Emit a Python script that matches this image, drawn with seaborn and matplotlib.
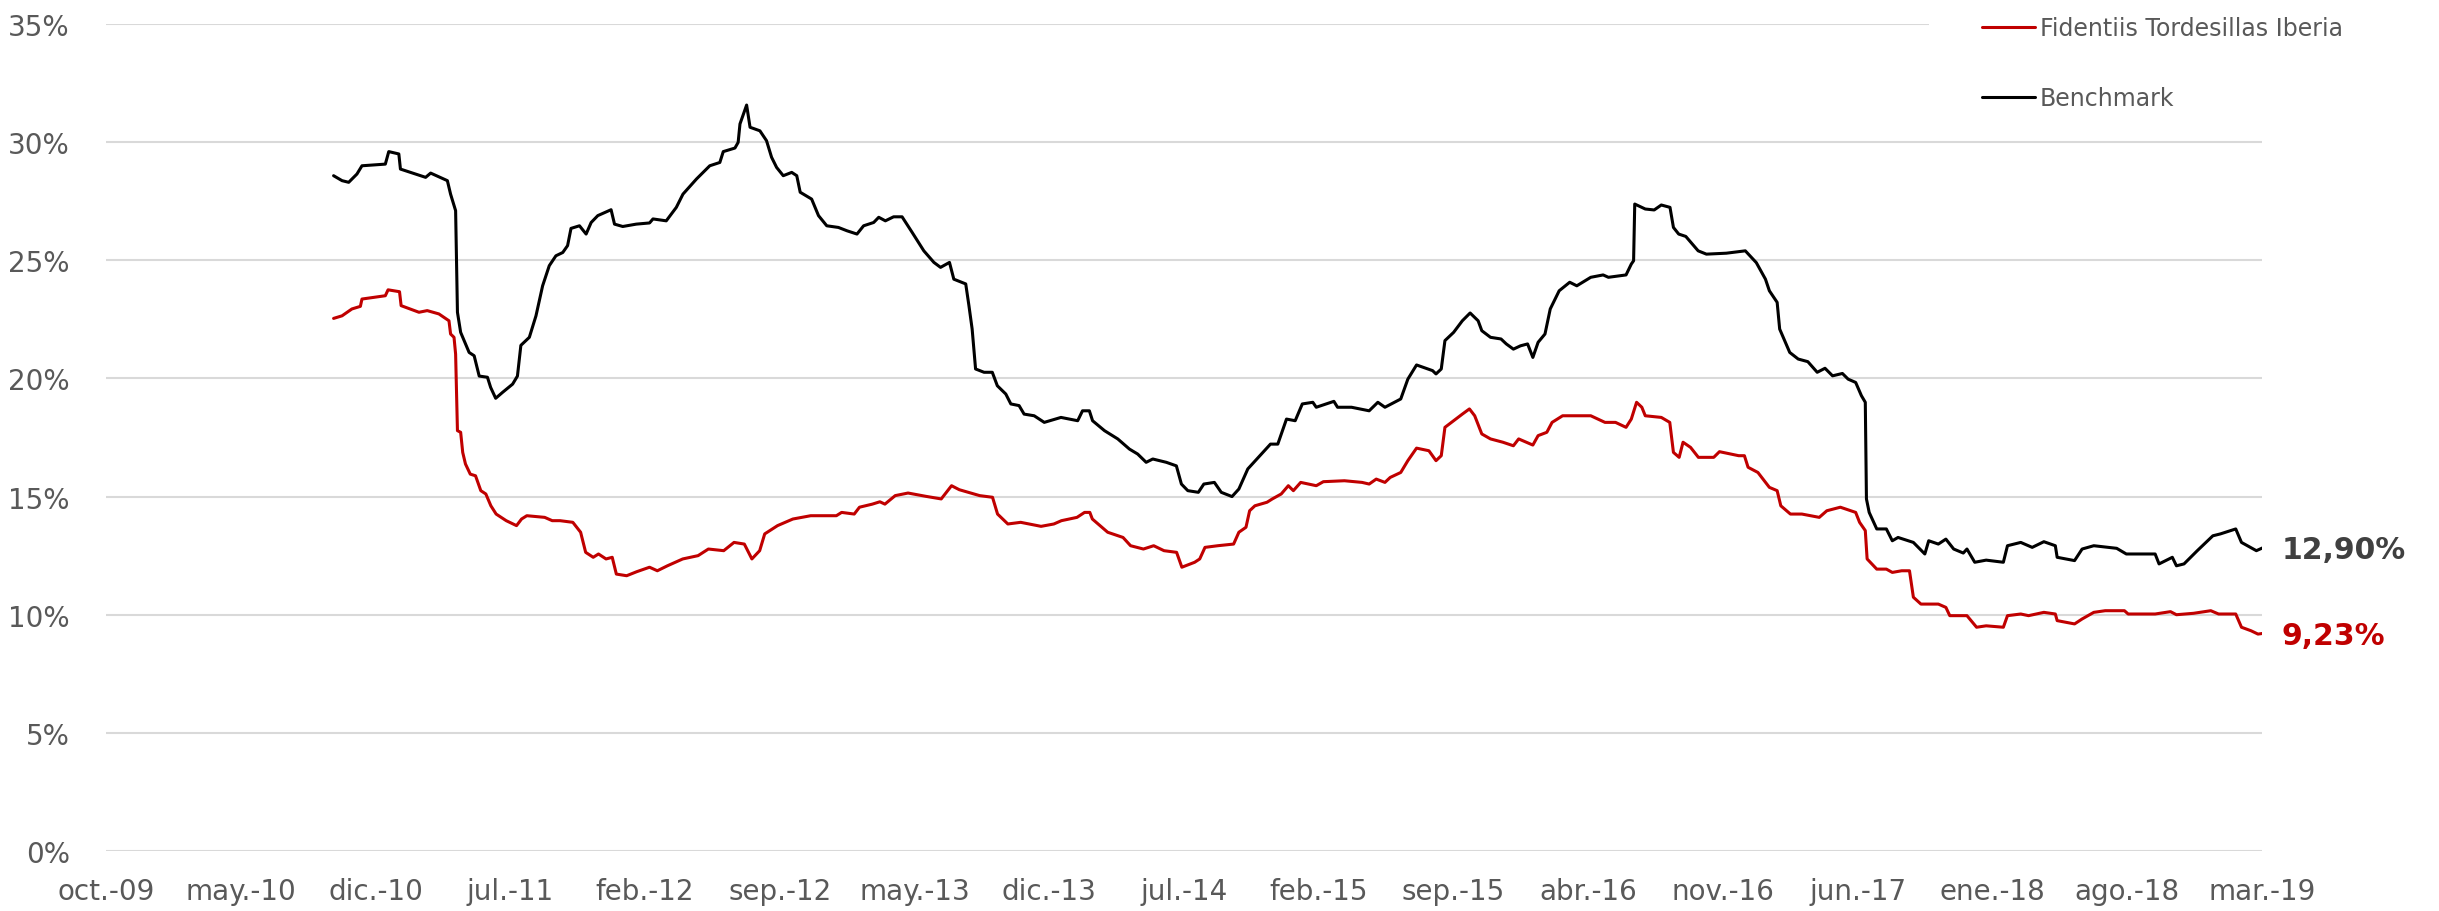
import numpy as np
import pandas as pd
import matplotlib
matplotlib.use("Agg")
import matplotlib.pyplot as plt
import seaborn as sns
from matplotlib.patches import Rectangle

# time is stored as decimal years (2010.75 = 1 Oct 2010), values in %
bench_t = [2010.744, 2010.781, 2010.810, 2010.846, 2010.868, 2010.970, 2010.985, 2011.029, 2011.036, 2011.146,
           2011.168, 2011.241, 2011.255, 2011.277, 2011.285, 2011.299, 2011.336, 2011.358, 2011.380, 2011.416,
           2011.430, 2011.452, 2011.482, 2011.526, 2011.547, 2011.562, 2011.599, 2011.628, 2011.657, 2011.686,
           2011.715, 2011.745, 2011.766, 2011.781, 2011.818, 2011.847, 2011.869, 2011.898, 2011.956, 2011.971,
           2012.007, 2012.066, 2012.124, 2012.139, 2012.197, 2012.241, 2012.270, 2012.329, 2012.387, 2012.431,
           2012.446, 2012.497, 2012.511, 2012.519, 2012.548, 2012.563, 2012.606, 2012.635, 2012.657, 2012.679,
           2012.708, 2012.745, 2012.767, 2012.782, 2012.832, 2012.862, 2012.898, 2012.949, 2012.986, 2013.030,
           2013.059, 2013.103, 2013.125, 2013.154, 2013.190, 2013.227, 2013.271, 2013.322, 2013.366, 2013.395,
           2013.434, 2013.453, 2013.505, 2013.519, 2013.533, 2013.548, 2013.585, 2013.621, 2013.643, 2013.680,
           2013.702, 2013.738, 2013.760, 2013.804, 2013.848, 2013.921, 2013.994, 2014.015, 2014.045, 2014.059,
           2014.111, 2014.169, 2014.220, 2014.256, 2014.293, 2014.322, 2014.381, 2014.425, 2014.447, 2014.475,
           2014.521, 2014.545, 2014.591, 2014.621, 2014.668, 2014.698, 2014.737, 2014.790, 2014.836, 2014.868,
           2014.906, 2014.944, 2014.975, 2015.021, 2015.036, 2015.113, 2015.129, 2015.190, 2015.267, 2015.305,
           2015.336, 2015.405, 2015.436, 2015.474, 2015.544, 2015.559, 2015.582, 2015.598, 2015.636, 2015.674,
           2015.708, 2015.743, 2015.759, 2015.797, 2015.843, 2015.866, 2015.897, 2015.928, 2015.959, 2015.982,
           2016.005, 2016.035, 2016.058, 2016.097, 2016.143, 2016.174, 2016.235, 2016.289, 2016.312, 2016.389,
           2016.412, 2016.422, 2016.427, 2016.473, 2016.512, 2016.543, 2016.581, 2016.596, 2016.619, 2016.650,
           2016.704, 2016.740, 2016.827, 2016.910, 2016.958, 2016.998, 2017.015, 2017.049, 2017.060, 2017.082,
           2017.104, 2017.141, 2017.183, 2017.224, 2017.258, 2017.291, 2017.334, 2017.359, 2017.392, 2017.417,
           2017.434, 2017.439, 2017.451, 2017.484, 2017.526, 2017.552, 2017.577, 2017.644, 2017.694, 2017.711,
           2017.753, 2017.786, 2017.820, 2017.862, 2017.878, 2017.912, 2017.962, 2018.037, 2018.055, 2018.113,
           2018.163, 2018.214, 2018.264, 2018.272, 2018.348, 2018.381, 2018.432, 2018.532, 2018.574, 2018.700,
           2018.717, 2018.775, 2018.793, 2018.826, 2018.884, 2018.952, 2018.985, 2019.052, 2019.077, 2019.142,
           2019.186]
bench_v = [28.58, 28.37, 28.30, 28.65, 29.00, 29.07, 29.60, 29.50, 28.86, 28.51,
           28.69, 28.37, 27.80, 27.10, 22.80, 21.95, 21.10, 20.96, 20.10, 20.05,
           19.62, 19.16, 19.41, 19.76, 20.10, 21.40, 21.74, 22.65, 23.92, 24.77,
           25.19, 25.33, 25.62, 26.35, 26.46, 26.11, 26.60, 26.89, 27.14, 26.53,
           26.43, 26.53, 26.58, 26.75, 26.67, 27.24, 27.80, 28.44, 29.00, 29.14,
           29.60, 29.75, 29.99, 30.77, 31.57, 30.63, 30.48, 30.06, 29.36, 28.93,
           28.58, 28.72, 28.58, 27.88, 27.59, 26.89, 26.46, 26.39, 26.25, 26.11,
           26.46, 26.60, 26.82, 26.67, 26.84, 26.84, 26.18, 25.40, 24.91, 24.70,
           24.91, 24.20, 24.00, 23.08, 22.09, 20.40, 20.26, 20.26, 19.69, 19.34,
           18.92, 18.85, 18.49, 18.42, 18.14, 18.35, 18.21, 18.63, 18.63, 18.21,
           17.79, 17.44, 17.01, 16.80, 16.45, 16.59, 16.45, 16.30, 15.53, 15.25,
           15.18, 15.53, 15.60, 15.18, 15.00, 15.32, 16.17, 16.73, 17.22, 17.22,
           18.28, 18.21, 18.92, 18.99, 18.78, 19.03, 18.78, 18.78, 18.63, 18.99,
           18.78, 19.13, 19.97, 20.57, 20.33, 20.19, 20.40, 21.60, 21.95, 22.44,
           22.77, 22.44, 22.02, 21.74, 21.67, 21.46, 21.24, 21.38, 21.46, 20.89,
           21.53, 21.88, 22.94, 23.71, 24.07, 23.92, 24.28, 24.38, 24.28, 24.38,
           24.84, 24.98, 27.38, 27.17, 27.13, 27.34, 27.24, 26.39, 26.11, 26.01,
           25.40, 25.26, 25.30, 25.40, 24.90, 24.20, 23.71, 23.22, 22.09, 21.60,
           21.10, 20.82, 20.71, 20.26, 20.43, 20.11, 20.21, 19.97, 19.83, 19.27,
           18.99, 14.90, 14.33, 13.63, 13.63, 13.13, 13.27, 13.06, 12.57, 13.13,
           12.99, 13.20, 12.78, 12.61, 12.78, 12.22, 12.31, 12.22, 12.92, 13.06,
           12.85, 13.09, 12.92, 12.43, 12.29, 12.78, 12.92, 12.81, 12.57, 12.57,
           12.15, 12.43, 12.07, 12.15, 12.71, 13.34, 13.42, 13.63, 13.06, 12.71,
           12.90]

fund_t = [2010.744, 2010.781, 2010.824, 2010.861, 2010.868, 2010.970, 2010.982, 2011.032, 2011.039, 2011.117,
          2011.153, 2011.204, 2011.248, 2011.255, 2011.270, 2011.277, 2011.285, 2011.299, 2011.308, 2011.320,
          2011.341, 2011.364, 2011.387, 2011.409, 2011.431, 2011.454, 2011.498, 2011.543, 2011.565, 2011.588,
          2011.666, 2011.699, 2011.733, 2011.789, 2011.823, 2011.845, 2011.878, 2011.901, 2011.934, 2011.961,
          2011.979, 2012.024, 2012.068, 2012.124, 2012.158, 2012.202, 2012.269, 2012.336, 2012.381, 2012.448,
          2012.493, 2012.538, 2012.571, 2012.605, 2012.627, 2012.683, 2012.750, 2012.828, 2012.940, 2012.963,
          2013.018, 2013.041, 2013.097, 2013.130, 2013.152, 2013.197, 2013.253, 2013.331, 2013.398, 2013.443,
          2013.477, 2013.566, 2013.622, 2013.644, 2013.689, 2013.745, 2013.834, 2013.890, 2013.923, 2013.991,
          2014.024, 2014.047, 2014.058, 2014.125, 2014.192, 2014.225, 2014.281, 2014.326, 2014.371, 2014.426,
          2014.449, 2014.505, 2014.527, 2014.550, 2014.606, 2014.675, 2014.698, 2014.729, 2014.745, 2014.768,
          2014.821, 2014.844, 2014.883, 2014.914, 2014.936, 2014.968, 2015.036, 2015.067, 2015.159, 2015.236,
          2015.267, 2015.298, 2015.336, 2015.359, 2015.405, 2015.436, 2015.474, 2015.528, 2015.559, 2015.582,
          2015.598, 2015.636, 2015.674, 2015.705, 2015.728, 2015.759, 2015.797, 2015.851, 2015.897, 2015.920,
          2015.982, 2016.005, 2016.043, 2016.066, 2016.112, 2016.235, 2016.297, 2016.343, 2016.389, 2016.412,
          2016.435, 2016.458, 2016.473, 2016.543, 2016.580, 2016.596, 2016.621, 2016.638, 2016.671, 2016.705,
          2016.772, 2016.797, 2016.881, 2016.906, 2016.922, 2016.965, 2017.015, 2017.049, 2017.065, 2017.107,
          2017.157, 2017.233, 2017.266, 2017.325, 2017.392, 2017.409, 2017.434, 2017.442, 2017.484, 2017.526,
          2017.552, 2017.593, 2017.627, 2017.644, 2017.677, 2017.753, 2017.786, 2017.803, 2017.878, 2017.920,
          2017.962, 2018.037, 2018.055, 2018.113, 2018.147, 2018.214, 2018.264, 2018.272, 2018.348, 2018.381,
          2018.432, 2018.482, 2018.566, 2018.582, 2018.700, 2018.767, 2018.793, 2018.868, 2018.943, 2018.977,
          2019.052, 2019.077, 2019.119, 2019.149, 2019.186]
fund_v = [22.54, 22.65, 22.94, 23.05, 23.36, 23.50, 23.75, 23.67, 23.08, 22.80,
          22.87, 22.73, 22.44, 21.88, 21.74, 21.03, 17.79, 17.72, 16.87, 16.38,
          15.95, 15.88, 15.25, 15.11, 14.61, 14.26, 13.98, 13.77, 14.05, 14.19,
          14.12, 13.98, 13.98, 13.91, 13.49, 12.64, 12.43, 12.57, 12.36, 12.43,
          11.72, 11.65, 11.82, 12.01, 11.86, 12.07, 12.36, 12.50, 12.78, 12.71,
          13.06, 12.99, 12.36, 12.71, 13.42, 13.77, 14.05, 14.19, 14.19, 14.33,
          14.26, 14.55, 14.68, 14.78, 14.68, 15.04, 15.15, 15.01, 14.90, 15.46,
          15.29, 15.04, 14.97, 14.26, 13.84, 13.91, 13.74, 13.84, 13.98, 14.12,
          14.33, 14.33, 14.05, 13.49, 13.27, 12.92, 12.78, 12.92, 12.71, 12.64,
          12.01, 12.22, 12.36, 12.85, 12.92, 12.99, 13.49, 13.70, 14.40, 14.61,
          14.76, 14.90, 15.11, 15.46, 15.25, 15.60, 15.46, 15.63, 15.67, 15.60,
          15.53, 15.74, 15.60, 15.81, 16.02, 16.52, 17.05, 16.94, 16.52, 16.73,
          17.93, 18.21, 18.49, 18.71, 18.42, 17.65, 17.44, 17.30, 17.15, 17.44,
          17.18, 17.58, 17.72, 18.14, 18.42, 18.42, 18.14, 18.14, 17.93, 18.28,
          18.99, 18.78, 18.42, 18.35, 18.14, 16.87, 16.66, 17.30, 17.08, 16.66,
          16.66, 16.90, 16.73, 16.73, 16.24, 16.02, 15.39, 15.25, 14.61, 14.26,
          14.26, 14.12, 14.40, 14.55, 14.33, 13.91, 13.56, 12.36, 11.93, 11.93,
          11.79, 11.86, 11.86, 10.74, 10.45, 10.45, 10.31, 9.96, 9.96, 9.47,
          9.53, 9.47, 9.96, 10.03, 9.96, 10.10, 10.03, 9.75, 9.61, 9.82,
          10.10, 10.17, 10.17, 10.03, 10.03, 10.13, 10.00, 10.06, 10.17, 10.03,
          10.03, 9.47, 9.32, 9.18, 9.23]

series_names = ["Fidentiis Tordesillas Iberia", "Benchmark"]
series_colors = ["#C00000", "#000000"]
tick_labels = ["oct.-09", "may.-10", "dic.-10", "jul.-11", "feb.-12", "sep.-12", "may.-13", "dic.-13",
               "jul.-14", "feb.-15", "sep.-15", "abr.-16", "nov.-16", "jun.-17", "ene.-18", "ago.-18", "mar.-19"]
x_start, x_end = 2009.75, 2019 + 2 / 12  # oct.-09 .. mar.-19

df = pd.concat([
    pd.DataFrame({"t": fund_t, "vol": fund_v, "serie": series_names[0]}),
    pd.DataFrame({"t": bench_t, "vol": bench_v, "serie": series_names[1]}),
])

sns.set_theme(style="white")
plt.rcParams["font.family"] = ["DejaVu Sans"]

W, H = 2439, 912
fig = plt.figure(figsize=(W / 100, H / 100), dpi=100)
ax = fig.add_axes([106 / W, 1 - 852 / H, (2262 - 106) / W, (852 - 25) / H])

sns.lineplot(data=df, x="t", y="vol", hue="serie", palette=series_colors, hue_order=series_names,
             estimator=None, sort=False, linewidth=2.2, ax=ax)

ax.set_xlim(x_start, x_end)
ax.set_ylim(0, 35)
ax.set_xticks(np.linspace(x_start, x_end, len(tick_labels)))
ax.set_xticklabels(tick_labels)
ax.set_yticks(range(0, 36, 5))
ax.set_yticklabels([f"{v}%" for v in range(0, 36, 5)])
ax.tick_params(axis="both", length=0, labelsize=20, colors="#595959")
ax.tick_params(axis="y", pad=26)
ax.tick_params(axis="x", pad=19)
ax.set_xlabel("")
ax.set_ylabel("")
for s in ax.spines.values():
    s.set_visible(False)
ax.grid(axis="y", color="#d9d9d9", linewidth=1.5)
ax.set_axisbelow(True)

# legend area hides the top gridline on the right
ax.add_patch(Rectangle(((1929 - 106) / (2262 - 106), 0.985), 0.2, 0.03, transform=ax.transAxes,
                       facecolor="white", edgecolor="none", clip_on=False, zorder=1))

leg = ax.legend(loc="upper left", bbox_to_anchor=(1982 / W, 1 - 17 / H), bbox_transform=fig.transFigure,
                frameon=False, fontsize=17, handlelength=2.25, handletextpad=0.2, labelspacing=1.95,
                borderpad=0, borderaxespad=0)
for txt in leg.get_texts():
    txt.set_color("#595959")

# end-of-series labels
for t, v, c in [(bench_t, bench_v, "#404040"), (fund_t, fund_v, "#C00000")]:
    ax.annotate(f"{v[-1]:.2f}%".replace(".", ","), xy=(t[-1], v[-1]), xytext=(15, -3),
                textcoords="offset pixels", va="center", ha="left", fontsize=21.5,
                fontweight="bold", color=c, annotation_clip=False)

fig.savefig("out.png", dpi=100, facecolor="white")
